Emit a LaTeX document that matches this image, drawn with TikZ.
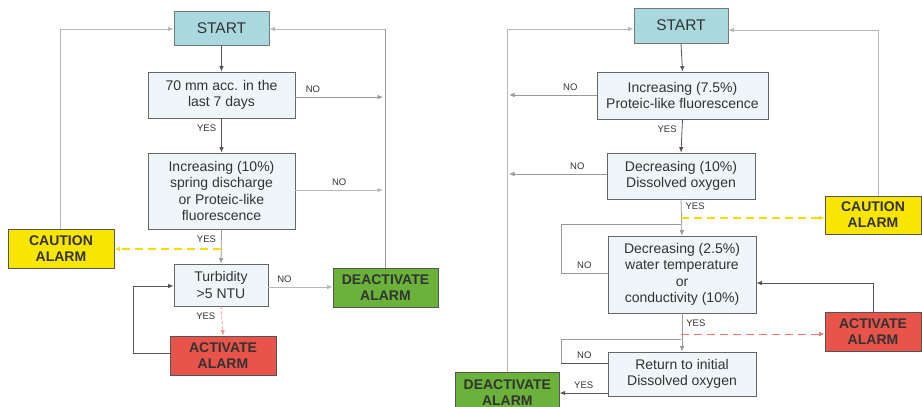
\documentclass[tikz,border=0pt]{standalone}
\usepackage{fontspec}
\setmainfont{Liberation Sans}
\usetikzlibrary{arrows.meta}
\definecolor{boxfill}{HTML}{EEF6F9}
\definecolor{startfill}{HTML}{A9D8DF}
\definecolor{cautfill}{HTML}{F8E600}
\definecolor{cautline}{HTML}{F2DE00}
\definecolor{actfill}{HTML}{E8534A}
\definecolor{deactfill}{HTML}{6AB23A}
\definecolor{txt}{HTML}{333333}
\definecolor{lline}{HTML}{B8B8B8}
\definecolor{mline}{HTML}{999999}
\definecolor{dline}{HTML}{555555}
\tikzset{
  x=1pt,y=-1pt,
  every node/.style={text=txt},
  qbox/.style={draw=dline!90,fill=boxfill,line width=0.7pt,font=\fontsize{14}{16.5}\selectfont,align=center,inner sep=0pt},
  startbox/.style={draw=dline!80,fill=startfill,line width=0.7pt,font=\fontsize{15.5}{18}\selectfont,align=center,inner sep=0pt},
  alarm/.style={draw=dline,line width=0.7pt,font=\bfseries\fontsize{14}{16}\selectfont,align=center,inner sep=0pt},
  lbl/.style={font=\fontsize{9.5}{11}\selectfont,inner sep=0pt},
  arr/.style={-{Latex[length=5.5pt,width=4.5pt]}},
  lconn/.style={draw=lline,line width=0.8pt},
  mconn/.style={draw=mline,line width=0.8pt},
  dconn/.style={draw=dline,line width=0.8pt},
  cautstyle/.style={draw=cautline,dash pattern=on 8pt off 5pt,line width=1.1pt},
}
\newcommand{\bx}[5]{\node[#1,minimum width={#4-#2},minimum height={#5-#3}] at ({(#2+#4)/2},{(#3+#5)/2})}
\begin{document}
\begin{tikzpicture}
\useasboundingbox (0,0) rectangle (922,407);
\begin{scope}
\clip (0,0) rectangle (922,407);
% ---------- left chart ----------
\bx{startbox}{174}{11}{269}{45} (ls) {START};
\bx{qbox}{148}{72}{295}{118} (l1) {70 mm acc. in the\\last 7 days};
\bx{qbox}{148}{153}{295}{229} (l2) {Increasing (10\%)\\spring discharge\\or Proteic-like\\fluorescence};
\bx{alarm,fill=cautfill}{8}{229}{114}{268} (lc) {CAUTION\\ALARM};
\bx{qbox}{174}{264}{268}{306} (l3) {Turbidity\\>5 NTU};
\bx{alarm,fill=actfill}{170}{336}{276}{375} (la) {ACTIVATE\\ALARM};
\bx{alarm,fill=deactfill}{333}{268}{438}{307} (ld) {DEACTIVATE\\ALARM};

\coordinate (lR) at (385,29);
\coordinate (lL) at (60,29);
\draw[dconn,arr] (ls.south) -- (l1.north);
\draw[dconn,arr] (l1.south) -- node[lbl,left=5pt,pos=0.3]{YES} (l2.north);
\draw[mconn,arr] (l1.east |- 0,97) -- node[lbl,above=4pt,pos=0.2]{NO} (383,97);
\draw[lconn,arr] (l2.east |- 0,190) -- node[lbl,above=4pt,pos=0.5]{NO} (383,190);
\draw[mconn] (ld.north -| lR) -- (lR);
\draw[lconn,arr] (lR) -- (ls.east |- lR);
\draw[lconn] (lc.north -| lL) -- (lL);
\draw[lconn,arr] (lL) -- (ls.west |- lL);
\draw[mconn,arr] (l2.south) -- node[lbl,left=5pt,pos=0.3]{YES} (l3.north);
\draw[cautstyle,arr] (221,249) -- (lc.east |- 0,249);
\draw[lconn,arr] (l3.east |- 0,287) -- node[lbl,above=4pt,pos=0.25]{NO} (ld.west |- 0,287);
\draw[draw=actfill!60,dash pattern=on 3pt off 2pt,line width=0.8pt,arr] (l3.south) -- node[lbl,left=6pt,pos=0.35]{YES} (la.north);
\draw[dconn,arr] (la.west |- 0,353) -- (133,353) -- (133,286) -- (l3.west |- 0,286);

% ---------- right chart ----------
\bx{startbox}{634}{8}{728}{43} (rs) {START};
\bx{qbox}{597}{72}{768}{119} (r1) {Increasing (7.5\%)\\Proteic-like fluorescence};
\bx{qbox}{607}{153}{755}{199} (r2) {Decreasing (10\%)\\Dissolved oxygen};
\bx{alarm,fill=cautfill}{825}{196}{921}{234} (rc) {CAUTION\\ALARM};
\bx{qbox}{608}{236}{756}{313} (r3) {Decreasing (2.5\%)\\water temperature\\or\\conductivity (10\%)};
\bx{alarm,fill=actfill}{825}{312}{921}{351} (ra) {ACTIVATE\\ALARM};
\bx{qbox}{608}{352}{756}{396} (r4) {Return to initial\\Dissolved oxygen};
\node[alarm,fill=deactfill,minimum width=104,minimum height=40,anchor=north west] (rd) at (455,372) {DEACTIVATE\\ALARM};

\coordinate (rL) at (507,29);
\coordinate (rR) at (878,30);
\draw[dconn,arr] (rs.south) -- (r1.north);
\draw[mconn,arr] (r1.west |- 0,95) -- node[lbl,above=4pt,pos=0.3]{NO} (509,95);
\draw[dconn,arr] (r1.south) -- node[lbl,left=5pt,pos=0.3]{YES} (r2.north);
\draw[mconn,arr] (r2.west |- 0,174) -- node[lbl,above=4pt,pos=0.3]{NO} (509,174);
\draw[lconn] (rd.north -| rL) -- (rL);
\draw[lconn,arr] (rL) -- (rs.west |- rL);
\draw[mconn,arr] (r2.south) -- node[lbl,right=4pt,pos=0.2]{YES} (r3.north);
\draw[cautstyle,arr] (681,218) -- (rc.west |- 0,218);
\draw[mconn] (r3.west |- 0,273) -- node[lbl,above=4pt,pos=0.5]{NO} (561,273) -- (561,224) -- (681,224);
\draw[lconn] (rc.north -| rR) -- (rR);
\draw[lconn,arr] (rR) -- (rs.east |- rR);
\draw[dconn,arr] (ra.north -| 873,0) -- (873,283) -- (r3.east |- 0,283);
\draw[mconn,arr] (r3.south) -- node[lbl,right=4pt,pos=0.25]{YES} (r4.north);
\draw[draw=actfill!80,dash pattern=on 8pt off 5pt,line width=0.8pt,arr] (681,334) -- (ra.west |- 0,334);
\draw[dconn] (r4.west |- 0,363) -- node[lbl,above=4pt,pos=0.5]{NO} (561,363);
\draw[mconn] (561,363) -- (561,339) -- (681,339);
\draw[dconn,arr] (r4.west |- 0,393) -- node[lbl,above=4pt,pos=0.5]{YES} (rd.east |- 0,393);
\end{scope}
\end{tikzpicture}
\end{document}
